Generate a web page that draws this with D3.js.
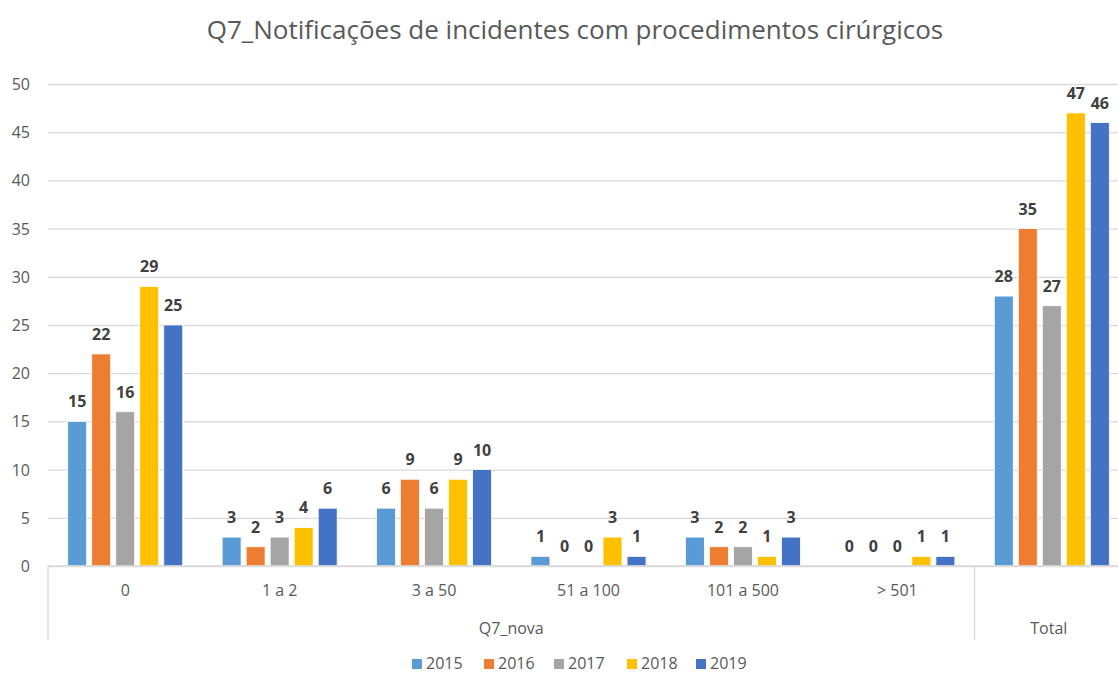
<!DOCTYPE html>
<html>
<head>
  <meta charset="utf-8">
  <title>Q7 Notificações</title>
  <script src="https://d3js.org/d3.v7.min.js"></script>
  <style>
    body { margin: 0; background: #fff; }
    text { font-family: "Open Sans", sans-serif; }
    .grid line { stroke: #d9d9d9; stroke-width: 1.3px; }
    .grid path { display: none; }
  </style>
</head>
<body>
<div id="chart"></div>
<script>
  // categories on the x axis and their parent group ("" = no sub label)
  const categories = ["0", "1 a 2", "3 a 50", "51 a 100", "101 a 500", "> 501", "Total"];
  const catLabels = ["0", "1 a 2", "3 a 50", "51 a 100", "101 a 500", "> 501", ""];
  const groups = ["Q7_nova", "Q7_nova", "Q7_nova", "Q7_nova", "Q7_nova", "Q7_nova", "Total"];
  const years = ["2015", "2016", "2017", "2018", "2019"];
  const colors = ["#5b9bd5", "#ed7d31", "#a5a5a5", "#ffc000", "#4472c4"];

  // one array per year, values per category
  const v2015 = [15, 3, 6, 1, 3, 0, 28];
  const v2016 = [22, 2, 9, 0, 2, 0, 35];
  const v2017 = [16, 3, 6, 0, 2, 0, 27];
  const v2018 = [29, 4, 9, 3, 1, 1, 47];
  const v2019 = [25, 6, 10, 1, 3, 1, 46];
  const series = [v2015, v2016, v2017, v2018, v2019];

  const yTicks = [0, 5, 10, 15, 20, 25, 30, 35, 40, 45, 50];

  const W = 1118, H = 675;
  const plot = {left: 48, right: 1129, top: 84, bottom: 566};

  const svg = d3.select("#chart").append("svg")
    .attr("width", W).attr("height", H);

  // title
  svg.append("text")
    .attr("x", 575).attr("y", 39)
    .attr("text-anchor", "middle")
    .attr("fill", "#595959")
    .style("font-size", "26px")
    .text("Q7_Notificações de incidentes com procedimentos cirúrgicos");

  const x = d3.scaleBand().domain(categories).range([plot.left, plot.right]);
  const xInner = d3.scaleBand().domain(years)
    .range([0, x.bandwidth()]).paddingInner(0.21).paddingOuter(0.82);
  const y = d3.scaleLinear().domain([0, 50]).range([plot.bottom, plot.top]);

  // gridlines
  svg.append("g").attr("class", "grid")
    .attr("transform", "translate(" + plot.left + ",0)")
    .call(d3.axisLeft(y).tickValues(yTicks).tickSize(-(plot.right - plot.left)).tickFormat(""));

  // y tick labels
  svg.selectAll(".ylab")
    .data(yTicks)
    .enter().append("text")
    .attr("x", 30).attr("y", d => y(d) + 6)
    .attr("text-anchor", "end")
    .attr("fill", "#595959")
    .style("font-size", "16px")
    .text(d => d);

  // bars
  const cells = [];
  series.forEach((vals, si) => {
    vals.forEach((v, ci) => {
      cells.push({cat: categories[ci], year: years[si], value: v, color: colors[si]});
    });
  });

  svg.selectAll(".bar")
    .data(cells.filter(d => d.value > 0))
    .enter().append("rect")
    .attr("x", d => x(d.cat) + xInner(d.year))
    .attr("y", d => y(d.value))
    .attr("width", xInner.bandwidth())
    .attr("height", d => plot.bottom - y(d.value))
    .attr("fill", d => d.color)
    .attr("stroke", "#fff")
    .attr("stroke-width", 0.8);

  // data labels
  svg.selectAll(".lab")
    .data(cells)
    .enter().append("text")
    .attr("x", d => x(d.cat) + xInner(d.year) + xInner.bandwidth() / 2)
    .attr("y", d => y(d.value) - 14)
    .attr("text-anchor", "middle")
    .attr("fill", "#404040")
    .style("font-size", "16px")
    .style("font-weight", "bold")
    .text(d => d.value);

  // x axis line
  svg.append("line")
    .attr("x1", plot.left).attr("x2", plot.right)
    .attr("y1", plot.bottom).attr("y2", plot.bottom)
    .attr("stroke", "#d9d9d9").attr("stroke-width", 1.3);

  // category labels
  svg.selectAll(".xlab")
    .data(categories)
    .enter().append("text")
    .attr("x", d => x(d) + x.bandwidth() / 2)
    .attr("y", 596)
    .attr("text-anchor", "middle")
    .attr("fill", "#595959")
    .style("font-size", "16px")
    .text((d, i) => catLabels[i]);

  // group separators and group labels
  const groupNames = Array.from(new Set(groups));
  const spans = groupNames.map(g => {
    const idx = categories.filter((c, i) => groups[i] === g);
    return {name: g, x0: x(idx[0]), x1: x(idx[idx.length - 1]) + x.bandwidth()};
  });

  const seps = [plot.left].concat(spans.map(s => s.x1));
  svg.selectAll(".sep")
    .data(seps)
    .enter().append("line")
    .attr("x1", d => d).attr("x2", d => d)
    .attr("y1", plot.bottom).attr("y2", 640)
    .attr("stroke", "#d9d9d9").attr("stroke-width", 1.3);

  svg.selectAll(".glab")
    .data(spans)
    .enter().append("text")
    .attr("x", d => (d.x0 + d.x1) / 2 - (d.name === "Total" ? 3 : 0))
    .attr("y", 634)
    .attr("text-anchor", "middle")
    .attr("fill", "#595959")
    .style("font-size", "16px")
    .text(d => d.name);

  // legend
  const legX = [412, 484, 554, 627, 696];
  const leg = svg.selectAll(".leg")
    .data(years)
    .enter().append("g")
    .attr("transform", (d, i) => "translate(" + legX[i] + ",659)");
  leg.append("rect")
    .attr("width", 10).attr("height", 10)
    .attr("fill", (d, i) => colors[i]);
  leg.append("text")
    .attr("x", 14).attr("y", 10)
    .attr("fill", "#595959")
    .style("font-size", "16px")
    .text(d => d);
</script>
</body>
</html>
